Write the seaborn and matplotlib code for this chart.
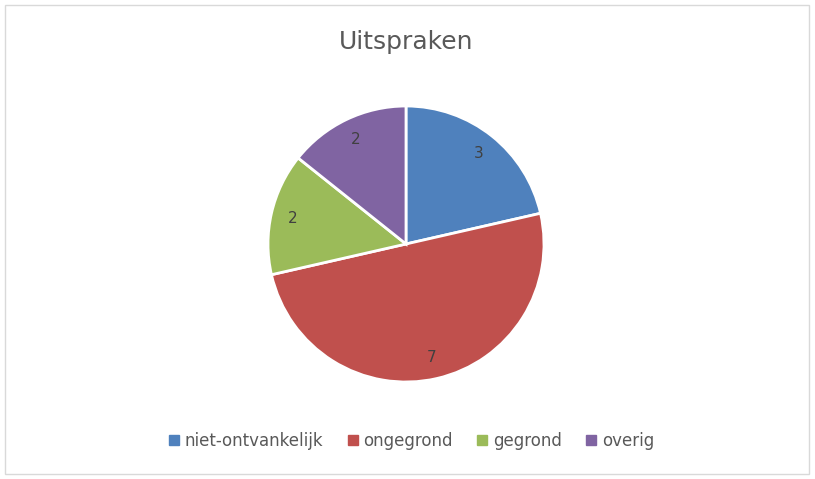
import matplotlib
matplotlib.use("Agg")
import matplotlib.pyplot as plt
from matplotlib.lines import Line2D
from matplotlib.patches import Rectangle
import seaborn as sns

categories = ['niet-ontvankelijk', 'ongegrond', 'gegrond', 'overig']
values = [3, 7, 2, 2]
colors = ['#4F81BD', '#C0504D', '#9BBB59', '#8064A2']
title = 'Uitspraken'

sns.set_theme(style='white')
plt.rcParams['font.family'] = ['DejaVu Sans']
text_col = '#595959'

W, H = 815, 479
fig = plt.figure(figsize=(W / 100, H / 100), dpi=100)

# light border around the chart area
fig.patches.append(Rectangle((5 / W, 5 / H), 804 / W, 469 / H, transform=fig.transFigure,
                             fill=False, edgecolor='#D9D9D9', linewidth=1))

r = 138
cx, cy = 406, H - 244
ax = fig.add_axes([(cx - r) / W, (cy - r) / H, 2 * r / W, 2 * r / H])
wedges, texts, autotexts = ax.pie(values, colors=colors, startangle=90, counterclock=False,
                                  autopct=lambda p: '%d' % round(p * sum(values) / 100),
                                  pctdistance=0.84,
                                  wedgeprops=dict(edgecolor='white', linewidth=2))
for t in autotexts:
    t.set_color('#404040')
    t.set_fontsize(11)
ax.set_xlim(-1, 1)
ax.set_ylim(-1, 1)
ax.set_aspect('auto')

fig.text(406 / W, 1 - 42 / H, title, ha='center', va='center', fontsize=18, color=text_col)

handles = [Line2D([], [], marker='s', linestyle='', markersize=6.5, color=c) for c in colors]
fig.legend(handles, categories, loc='center', bbox_to_anchor=(410 / W, 1 - 441 / H),
           ncol=4, frameon=False, fontsize=12, labelcolor=text_col,
           handletextpad=0.15, columnspacing=1.25, handlelength=1.0)

fig.savefig('out.png', dpi=100)
